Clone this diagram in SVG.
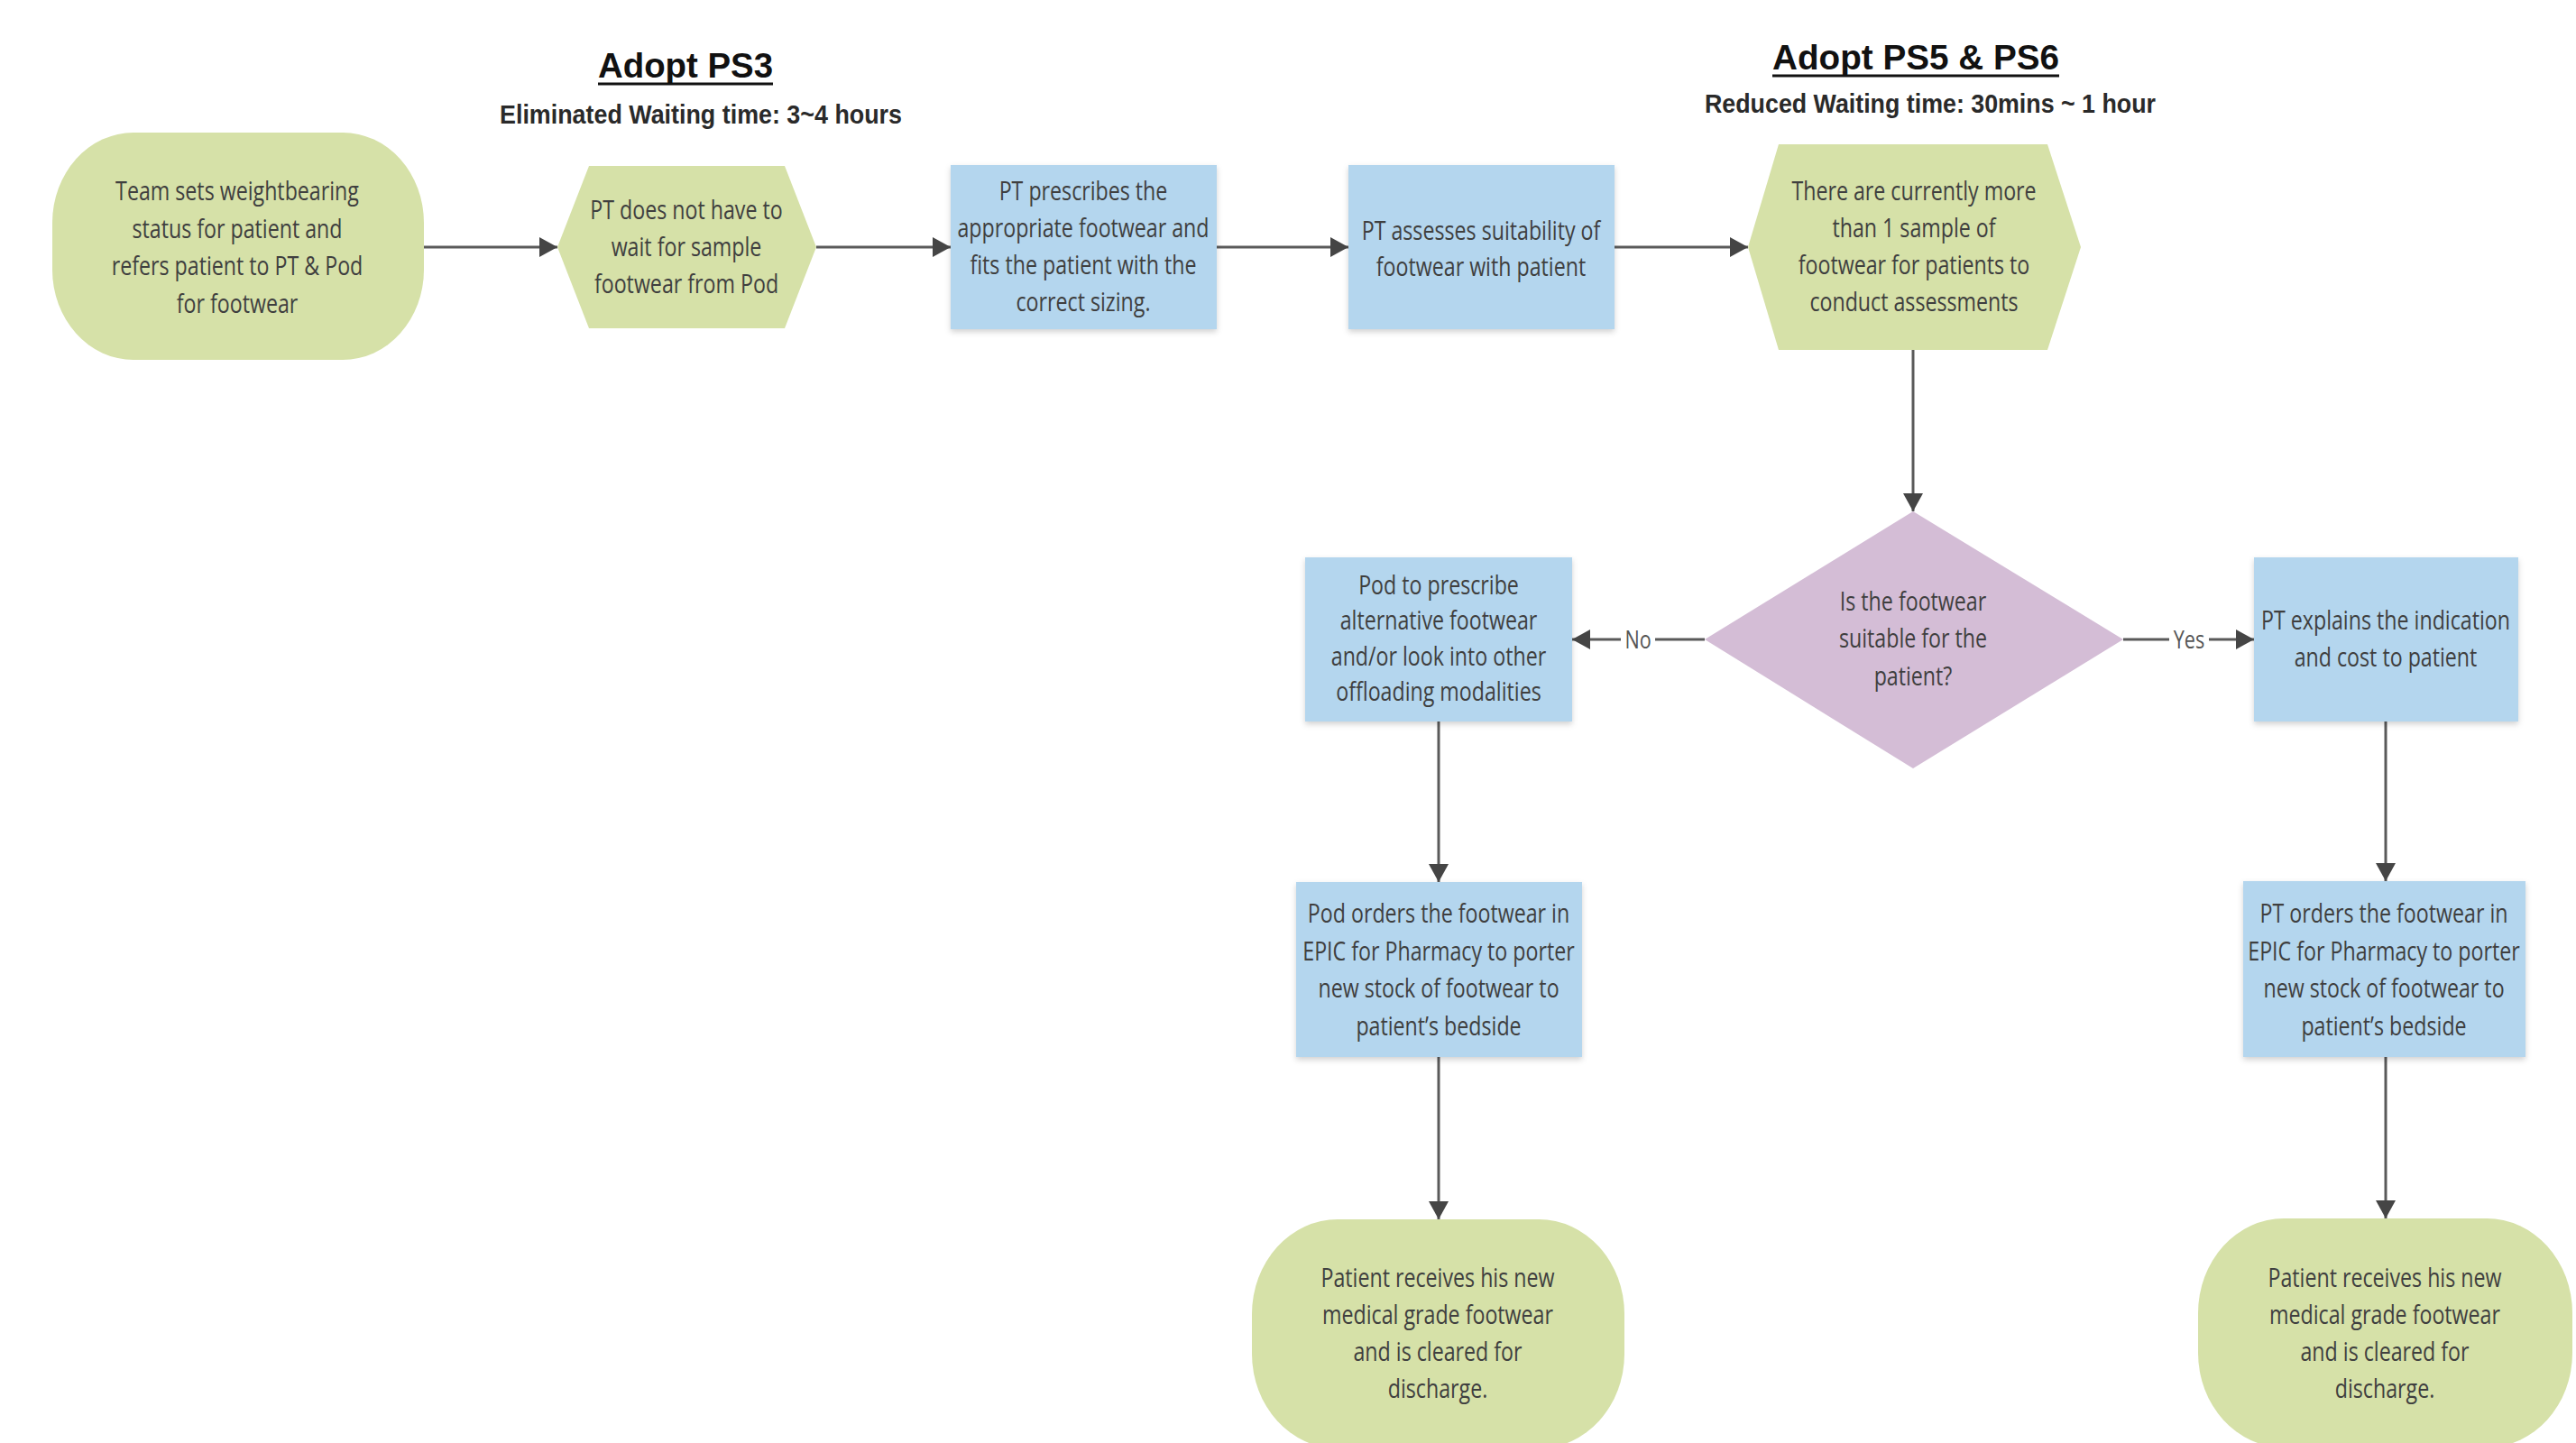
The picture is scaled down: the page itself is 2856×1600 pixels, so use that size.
<svg xmlns="http://www.w3.org/2000/svg" width="2856" height="1600" viewBox="0 0 2856 1600">
<style>
.green{fill:#d6e1a8;}
.blue{fill:#b4d6ee;}
.purple{fill:#d4bdd6;}
.t{font-family:"Open Sans","Liberation Sans",sans-serif;font-size:29px;fill:#3f3f3f;text-anchor:middle;}
.lbl{font-family:"Open Sans","Liberation Sans",sans-serif;font-size:27px;fill:#555;text-anchor:middle;}
.title{font-family:"Liberation Sans",Arial,sans-serif;font-weight:bold;font-size:39px;fill:#111;text-anchor:middle;}
.sub{font-family:"Liberation Sans",Arial,sans-serif;font-weight:bold;font-size:30px;fill:#2a2a2a;text-anchor:middle;}
.conn{stroke:#5a5a5a;stroke-width:3;fill:none;marker-end:url(#arr);}
</style>
<defs>
<marker id="arr" markerUnits="userSpaceOnUse" viewBox="0 0 20 22" refX="20" refY="11" markerWidth="20" markerHeight="22" orient="auto">
<path d="M0,0 L20,11 L0,22 z" fill="#454545"/>
</marker>
<filter id="sh" x="-10%" y="-10%" width="120%" height="125%">
<feDropShadow dx="0" dy="3" stdDeviation="3" flood-color="#000" flood-opacity="0.18"/>
</filter>
</defs>
<rect width="2856" height="1600" fill="#ffffff"/>

<g id="titles">
<text class="title" x="760" y="86" textLength="194" lengthAdjust="spacingAndGlyphs">Adopt PS3</text>
<line x1="663" y1="93" x2="857" y2="93" stroke="#111" stroke-width="3"/>
<text class="sub" x="777" y="137" textLength="446" lengthAdjust="spacingAndGlyphs">Eliminated Waiting time: 3~4 hours</text>
<text class="title" x="2124" y="77" textLength="318" lengthAdjust="spacingAndGlyphs">Adopt PS5 &amp; PS6</text>
<line x1="1965" y1="84" x2="2283" y2="84" stroke="#111" stroke-width="3"/>
<text class="sub" x="2140" y="125" textLength="500" lengthAdjust="spacingAndGlyphs">Reduced Waiting time: 30mins ~ 1 hour</text>
</g>

<g id="connectors">
<line class="conn" x1="470" y1="274" x2="618" y2="274"/>
<line class="conn" x1="905" y1="274" x2="1054" y2="274"/>
<line class="conn" x1="1349" y1="274" x2="1495" y2="274"/>
<line class="conn" x1="1790" y1="274" x2="1938" y2="274"/>
<line class="conn" x1="2121" y1="388" x2="2121" y2="567"/>
<line class="conn" x1="1890" y1="709" x2="1743" y2="709"/>
<line class="conn" x1="2354" y1="709" x2="2499" y2="709"/>
<line class="conn" x1="1595" y1="800" x2="1595" y2="978"/>
<line class="conn" x1="1595" y1="1172" x2="1595" y2="1352"/>
<line class="conn" x1="2645" y1="800" x2="2645" y2="977"/>
<line class="conn" x1="2645" y1="1172" x2="2645" y2="1351"/>
<rect x="1797" y="692" width="38" height="32" fill="#fff"/>
<text class="lbl" transform="translate(1816 0) scale(0.8 1)" x="0" y="719">No</text>
<rect x="2405" y="692" width="44" height="32" fill="#fff"/>
<text class="lbl" transform="translate(2427 0) scale(0.8 1)" x="0" y="719">Yes</text>
</g>

<g id="n1">
<rect class="green" x="58" y="147" width="412" height="252" rx="90" ry="100"/>
<text class="t" transform="translate(263 0) scale(0.8 1)"><tspan x="0" y="222">Team sets weightbearing</tspan><tspan x="0" y="264">status for patient and</tspan><tspan x="0" y="305">refers patient to PT &amp; Pod</tspan><tspan x="0" y="347">for footwear</tspan></text>
</g>

<g id="n2">
<polygon class="green" points="653,184 870,184 905,274 870,364 653,364 618,274"/>
<text class="t" transform="translate(761 0) scale(0.8 1)"><tspan x="0" y="243">PT does not have to</tspan><tspan x="0" y="284">wait for sample</tspan><tspan x="0" y="325">footwear from Pod</tspan></text>
</g>

<g id="n3">
<rect class="blue" x="1054" y="183" width="295" height="182" filter="url(#sh)"/>
<text class="t" transform="translate(1201 0) scale(0.8 1)"><tspan x="0" y="222">PT prescribes the</tspan><tspan x="0" y="263">appropriate footwear and</tspan><tspan x="0" y="304">fits the patient with the</tspan><tspan x="0" y="345">correct sizing.</tspan></text>
</g>

<g id="n4">
<rect class="blue" x="1495" y="183" width="295" height="182" filter="url(#sh)"/>
<text class="t" transform="translate(1642 0) scale(0.8 1)"><tspan x="0" y="266">PT assesses suitability of</tspan><tspan x="0" y="306">footwear with patient</tspan></text>
</g>

<g id="n5">
<polygon class="green" points="1972,160 2270,160 2307,274 2270,388 1972,388 1938,274"/>
<text class="t" transform="translate(2122 0) scale(0.8 1)"><tspan x="0" y="222">There are currently more</tspan><tspan x="0" y="263">than 1 sample of</tspan><tspan x="0" y="304">footwear for patients to</tspan><tspan x="0" y="345">conduct assessments</tspan></text>
</g>

<g id="n6">
<polygon class="purple" points="2121,567 2354,709 2121,852 1890,709"/>
<text class="t" transform="translate(2121 0) scale(0.8 1)"><tspan x="0" y="677">Is the footwear</tspan><tspan x="0" y="718">suitable for the</tspan><tspan x="0" y="760">patient?</tspan></text>
</g>

<g id="n7">
<rect class="blue" x="1447" y="618" width="296" height="182" filter="url(#sh)"/>
<text class="t" transform="translate(1595 0) scale(0.8 1)"><tspan x="0" y="659">Pod to prescribe</tspan><tspan x="0" y="698">alternative footwear</tspan><tspan x="0" y="738">and/or look into other</tspan><tspan x="0" y="777">offloading modalities</tspan></text>
</g>

<g id="n8">
<rect class="blue" x="2499" y="618" width="293" height="182" filter="url(#sh)"/>
<text class="t" transform="translate(2645 0) scale(0.8 1)"><tspan x="0" y="698">PT explains the indication</tspan><tspan x="0" y="739">and cost to patient</tspan></text>
</g>

<g id="n9">
<rect class="blue" x="1437" y="978" width="317" height="194" filter="url(#sh)"/>
<text class="t" transform="translate(1595 0) scale(0.8 1)"><tspan x="0" y="1023">Pod orders the footwear in</tspan><tspan x="0" y="1065">EPIC for Pharmacy to porter</tspan><tspan x="0" y="1106">new stock of footwear to</tspan><tspan x="0" y="1148">patient’s bedside</tspan></text>
</g>

<g id="n10">
<rect class="blue" x="2487" y="977" width="313" height="195" filter="url(#sh)"/>
<text class="t" transform="translate(2643 0) scale(0.8 1)"><tspan x="0" y="1023">PT orders the footwear in</tspan><tspan x="0" y="1065">EPIC for Pharmacy to porter</tspan><tspan x="0" y="1106">new stock of footwear to</tspan><tspan x="0" y="1148">patient’s bedside</tspan></text>
</g>

<g id="n11">
<rect class="green" x="1388" y="1352" width="413" height="254" rx="95" ry="105"/>
<text class="t" transform="translate(1594 0) scale(0.8 1)"><tspan x="0" y="1427">Patient receives his new</tspan><tspan x="0" y="1468">medical grade footwear</tspan><tspan x="0" y="1509">and is cleared for</tspan><tspan x="0" y="1550">discharge.</tspan></text>
</g>

<g id="n12">
<rect class="green" x="2437" y="1351" width="415" height="254" rx="95" ry="105"/>
<text class="t" transform="translate(2644 0) scale(0.8 1)"><tspan x="0" y="1427">Patient receives his new</tspan><tspan x="0" y="1468">medical grade footwear</tspan><tspan x="0" y="1509">and is cleared for</tspan><tspan x="0" y="1550">discharge.</tspan></text>
</g>
</svg>
